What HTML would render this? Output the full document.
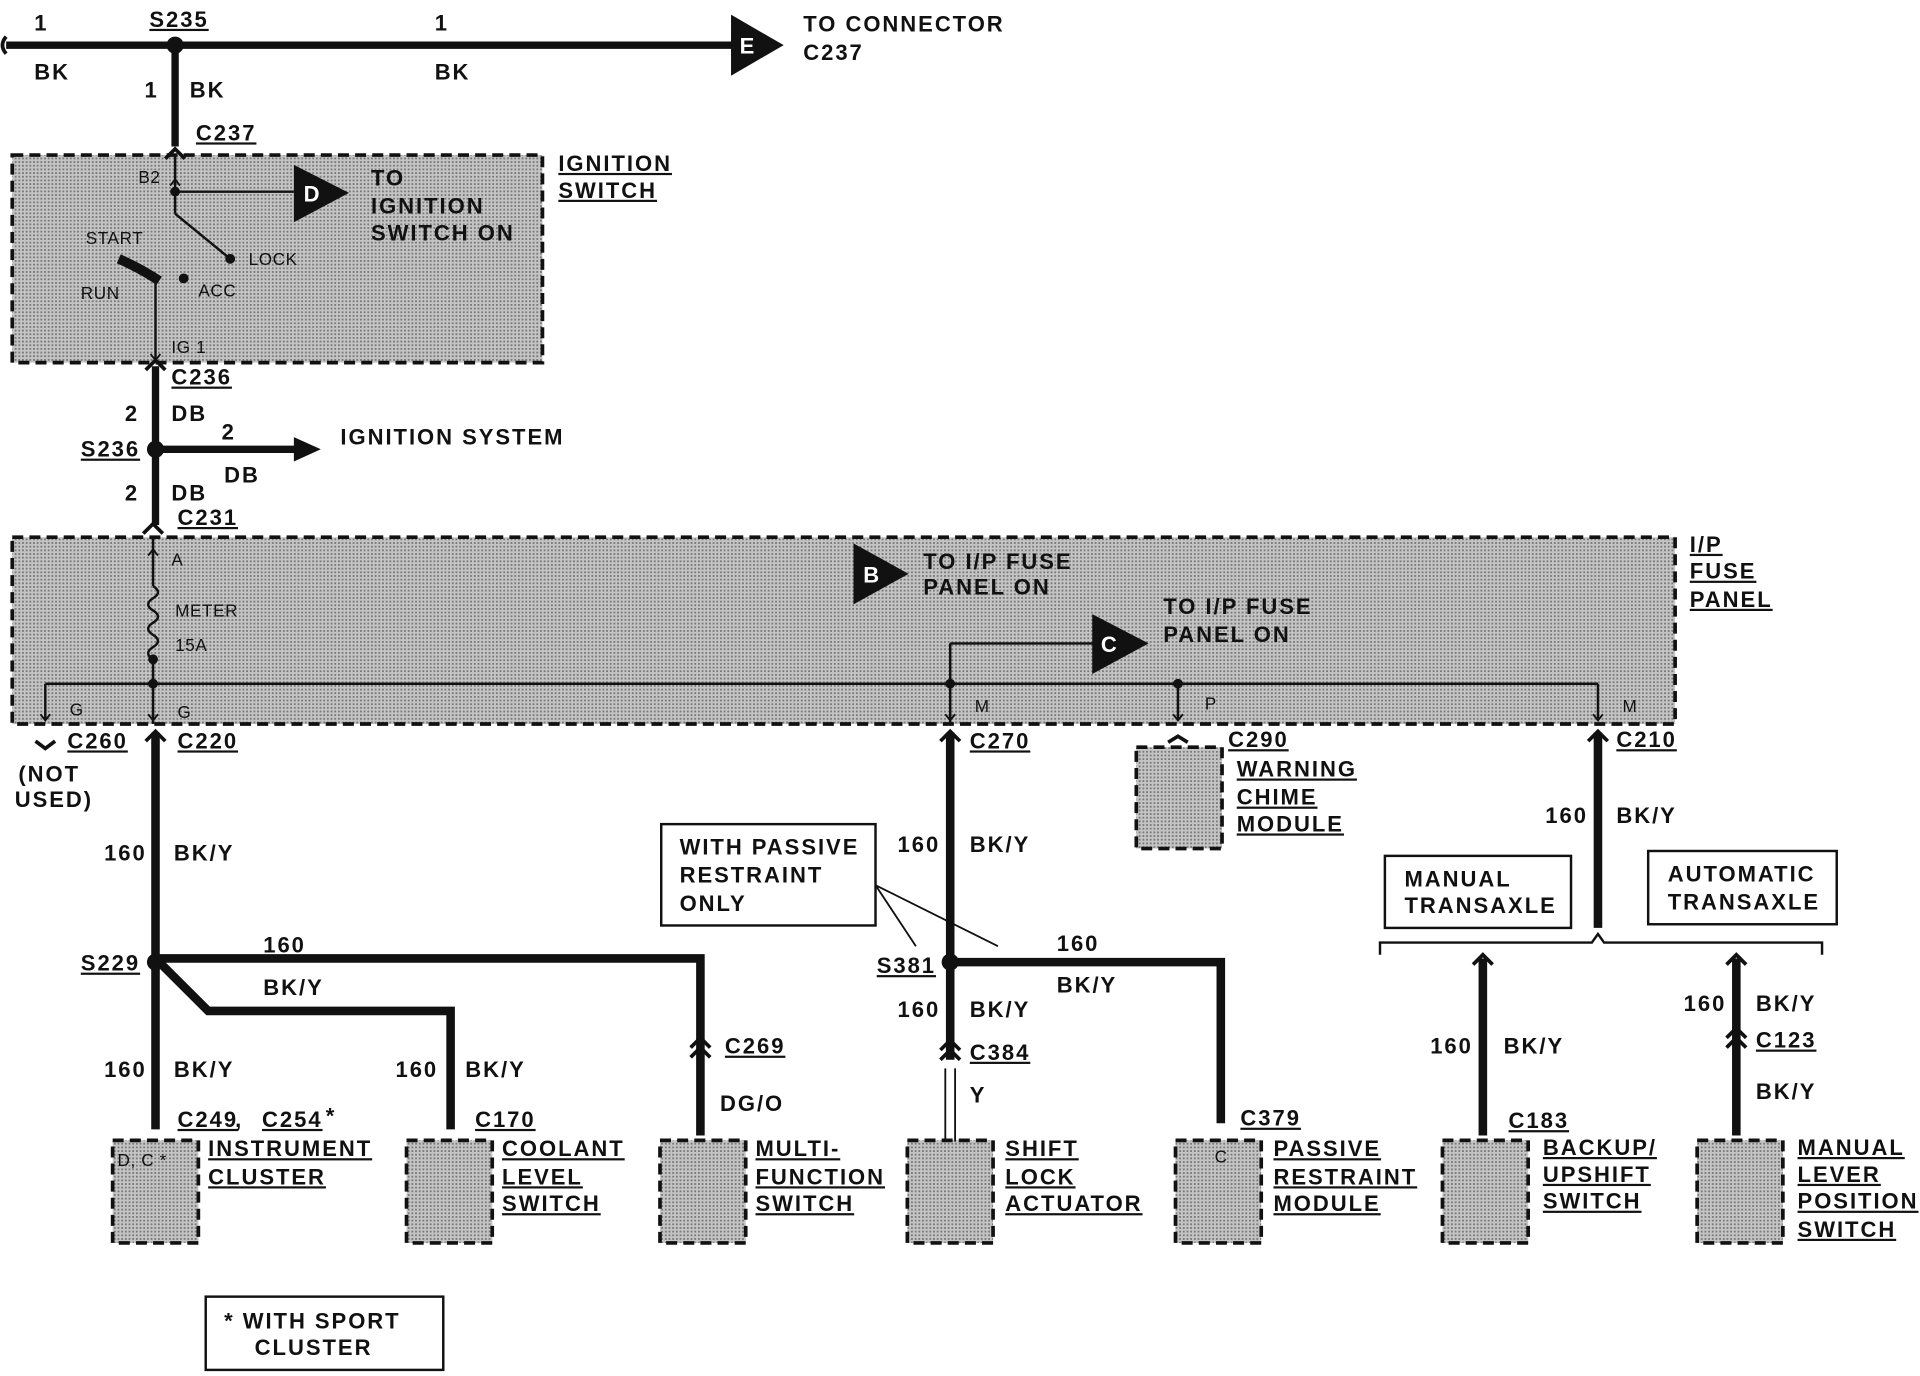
<!DOCTYPE html>
<html><head><meta charset="utf-8"><style>
html,body{margin:0;padding:0;background:#fff;width:1920px;height:1376px;overflow:hidden}
svg{display:block}
text{font-family:"Liberation Sans",sans-serif;font-weight:bold;font-size:18px;letter-spacing:1.6px;fill:#111}
.s{font-size:14px;font-weight:normal;letter-spacing:0.5px}
.u{text-decoration:underline}
</style></head><body>
<svg width="1920" height="1376" viewBox="0 0 1568 1127" preserveAspectRatio="none">
<defs>
<pattern id="dots" width="3" height="3" patternUnits="userSpaceOnUse"><rect width="3" height="3" fill="#c4c4c4"/><rect width="1.5" height="1.5" fill="#7a7a7a"/></pattern>
</defs>
<g fill="url(#dots)" stroke="#111" stroke-width="3" stroke-dasharray="9,5">
<rect x="10" y="127" width="433" height="170"/>
<rect x="10" y="440" width="1358" height="153"/>
<rect x="92" y="934" width="70" height="84"/>
<rect x="332" y="934" width="70" height="84"/>
<rect x="539" y="934" width="70" height="84"/>
<rect x="741" y="934" width="70" height="84"/>
<rect x="960" y="934" width="70" height="84"/>
<rect x="1178" y="934" width="70" height="84"/>
<rect x="1386" y="934" width="70" height="84"/>
<rect x="928" y="612" width="70" height="83"/>
</g>
<g stroke="#111" fill="none">
<path d="M5 37H600M143 37V120M127 300V430M127 368H245" stroke-width="6"/>
<path d="M127 600V925M127 785H572V930M127 785L170 828H368V925M776 600V868M776 788H997V920M1305 600V760M1211 785V930M1418 785V930" stroke-width="7"/>
<path d="M772 875V935M780 875V935" stroke-width="1.5"/>
<path d="M143 127V175M143 157H240M143 175L188 212M127 228V295M125 440V480M125 540V593M37 560H1305M776 527V593M776 527H895M962 560V590M37 560V590M1305 560V590" stroke-width="2"/>
<path d="M125 480q8 5 0 10q-8 5 0 10q8 5 0 10q-8 5 0 10q8 5 0 10q-8 5 0 10" stroke-width="2"/>
<path d="M97 212Q115 220 130 230" stroke-width="8"/>
<path d="M1127 782V772H1300L1305 765L1310 772H1488V782" stroke-width="2"/>
<path d="M715 725L748 775M715 725L815 775" stroke-width="1.5"/>
<path d="M135 130L143 122L151 130M119 303L127 295L135 303M117 437L125 429L133 437M119 607L127 599L135 607M768 607L776 599L784 607M1297 607L1305 599L1313 607M29 607L37 613L45 607M954 608L962 603L970 608M1203 790L1211 782L1219 790M1410 790L1418 782L1426 790M564 858L572 850L580 858M564 866L572 858L580 866M768 860L776 852L784 860M768 868L776 860L784 868M1410 850L1418 842L1426 850M1410 858L1418 850L1426 858" stroke-width="3"/>
<path d="M33 585L37 590L41 585M121 585L125 590L129 585M772 585L776 590L780 585M958 585L962 590L966 585M1301 585L1305 590L1309 585M123 290L127 295L131 290M121 455L125 450L129 455M139 152L143 147L147 152" stroke-width="1.5"/>
<rect x="540" y="675" width="175" height="83" stroke-width="2"/>
<rect x="1131" y="701" width="152" height="59" stroke-width="2"/>
<rect x="1346" y="697" width="154" height="60" stroke-width="2"/>
<rect x="168" y="1062" width="194" height="60" stroke-width="2"/>
</g>
<path d="M5 30q-6 7 0 14" stroke="#111" stroke-width="3" fill="none"/>
<g fill="#111">
<path d="M597 12L640 37L597 62Z"/><path d="M240 135L285 158L240 182Z"/><path d="M697 445L742 470L697 495Z"/><path d="M892 503L938 527L892 552Z"/><path d="M240 358L262 368L240 378Z"/>
<circle cx="143" cy="37" r="7"/><circle cx="127" cy="368" r="7"/><circle cx="127" cy="788" r="7"/><circle cx="776" cy="788" r="7"/>
<circle cx="143" cy="157" r="4"/><circle cx="188" cy="212" r="4"/><circle cx="150" cy="228" r="4"/><circle cx="125" cy="540" r="4"/><circle cx="125" cy="560" r="4"/><circle cx="776" cy="560" r="4"/><circle cx="962" cy="560" r="4"/>
</g>
<text x="604" y="44" style="fill:#fff">E</text><text x="248" y="165" style="fill:#fff">D</text><text x="705" y="477" style="fill:#fff">B</text><text x="899" y="534" style="fill:#fff">C</text>
<text x="28" y="25">1</text><text x="122" y="22" class="u">S235</text><text x="355" y="25">1</text>
<text x="28" y="65">BK</text><text x="355" y="65">BK</text>
<text x="656" y="26">TO CONNECTOR</text><text x="656" y="49">C237</text>
<text x="118" y="80">1</text><text x="155" y="80">BK</text><text x="160" y="115" class="u">C237</text>
<text x="456" y="140" class="u">IGNITION</text><text x="456" y="162" class="u">SWITCH</text>
<text x="303" y="152">TO</text><text x="303" y="175">IGNITION</text><text x="303" y="197">SWITCH ON</text>
<text x="113" y="150" class="s">B2</text><text x="203" y="217" class="s">LOCK</text><text x="70" y="200" class="s">START</text><text x="162" y="243" class="s">ACC</text><text x="66" y="245" class="s">RUN</text><text x="140" y="289" class="s">IG 1</text>
<text x="140" y="315" class="u">C236</text><text x="102" y="345">2</text><text x="140" y="345">DB</text>
<text x="66" y="374" class="u">S236</text><text x="181" y="360">2</text><text x="183" y="395">DB</text><text x="278" y="364">IGNITION SYSTEM</text>
<text x="102" y="410">2</text><text x="140" y="410">DB</text><text x="145" y="430" class="u">C231</text>
<text x="1380" y="452" class="u">I/P</text><text x="1380" y="474" class="u">FUSE</text><text x="1380" y="497" class="u">PANEL</text>
<text x="140" y="463" class="s">A</text><text x="754" y="466">TO I/P FUSE</text><text x="754" y="487">PANEL ON</text>
<text x="143" y="505" class="s">METER</text><text x="143" y="533" class="s">15A</text>
<text x="950" y="503">TO I/P FUSE</text><text x="950" y="526">PANEL ON</text>
<text x="57" y="586" class="s">G</text><text x="145" y="588" class="s">G</text><text x="796" y="583" class="s">M</text><text x="984" y="581" class="s">P</text><text x="1325" y="583" class="s">M</text>
<text x="55" y="613" class="u">C260</text><text x="15" y="640">(NOT</text><text x="12" y="661">USED)</text>
<text x="145" y="613" class="u">C220</text><text x="85" y="705">160</text><text x="142" y="705">BK/Y</text>
<text x="66" y="795" class="u">S229</text><text x="215" y="780">160</text><text x="215" y="815">BK/Y</text>
<text x="85" y="882">160</text><text x="142" y="882">BK/Y</text><text x="323" y="882">160</text><text x="380" y="882">BK/Y</text>
<text x="592" y="863" class="u">C269</text><text x="588" y="910">DG/O</text>
<text x="145" y="923" class="u">C249</text><text x="192" y="923">,</text><text x="214" y="923" class="u">C254</text><text x="266" y="920">*</text>
<text x="96" y="955" class="s">D, C *</text>
<text x="170" y="947" class="u">INSTRUMENT</text><text x="170" y="970" class="u">CLUSTER</text>
<text x="388" y="923" class="u">C170</text>
<text x="410" y="947" class="u">COOLANT</text><text x="410" y="970" class="u">LEVEL</text><text x="410" y="992" class="u">SWITCH</text>
<text x="617" y="947" class="u">MULTI-</text><text x="617" y="970" class="u">FUNCTION</text><text x="617" y="992" class="u">SWITCH</text>
<text x="792" y="613" class="u">C270</text><text x="733" y="698">160</text><text x="792" y="698">BK/Y</text>
<text x="555" y="700">WITH PASSIVE</text><text x="555" y="723">RESTRAINT</text><text x="555" y="746">ONLY</text>
<text x="716" y="797" class="u">S381</text><text x="863" y="779">160</text><text x="863" y="813">BK/Y</text>
<text x="733" y="833">160</text><text x="792" y="833">BK/Y</text><text x="792" y="868" class="u">C384</text><text x="792" y="903">Y</text>
<text x="1013" y="922" class="u">C379</text><text x="992" y="952" class="s">C</text>
<text x="821" y="947" class="u">SHIFT</text><text x="821" y="970" class="u">LOCK</text><text x="821" y="992" class="u">ACTUATOR</text>
<text x="1040" y="947" class="u">PASSIVE</text><text x="1040" y="970" class="u">RESTRAINT</text><text x="1040" y="992" class="u">MODULE</text>
<text x="1003" y="612" class="u">C290</text><text x="1010" y="636" class="u">WARNING</text><text x="1010" y="659" class="u">CHIME</text><text x="1010" y="681" class="u">MODULE</text>
<text x="1320" y="612" class="u">C210</text><text x="1262" y="674">160</text><text x="1320" y="674">BK/Y</text>
<text x="1147" y="726">MANUAL</text><text x="1147" y="748">TRANSAXLE</text>
<text x="1362" y="722">AUTOMATIC</text><text x="1362" y="745">TRANSAXLE</text>
<text x="1168" y="863">160</text><text x="1228" y="863">BK/Y</text><text x="1232" y="924" class="u">C183</text>
<text x="1260" y="946" class="u">BACKUP/</text><text x="1260" y="968" class="u">UPSHIFT</text><text x="1260" y="990" class="u">SWITCH</text>
<text x="1375" y="828">160</text><text x="1434" y="828">BK/Y</text><text x="1434" y="858" class="u">C123</text><text x="1434" y="900">BK/Y</text>
<text x="1468" y="946" class="u">MANUAL</text><text x="1468" y="968" class="u">LEVER</text><text x="1468" y="990" class="u">POSITION</text><text x="1468" y="1013" class="u">SWITCH</text>
<text x="183" y="1088">*  WITH SPORT</text><text x="208" y="1110">CLUSTER</text>
</svg>
</body></html>
